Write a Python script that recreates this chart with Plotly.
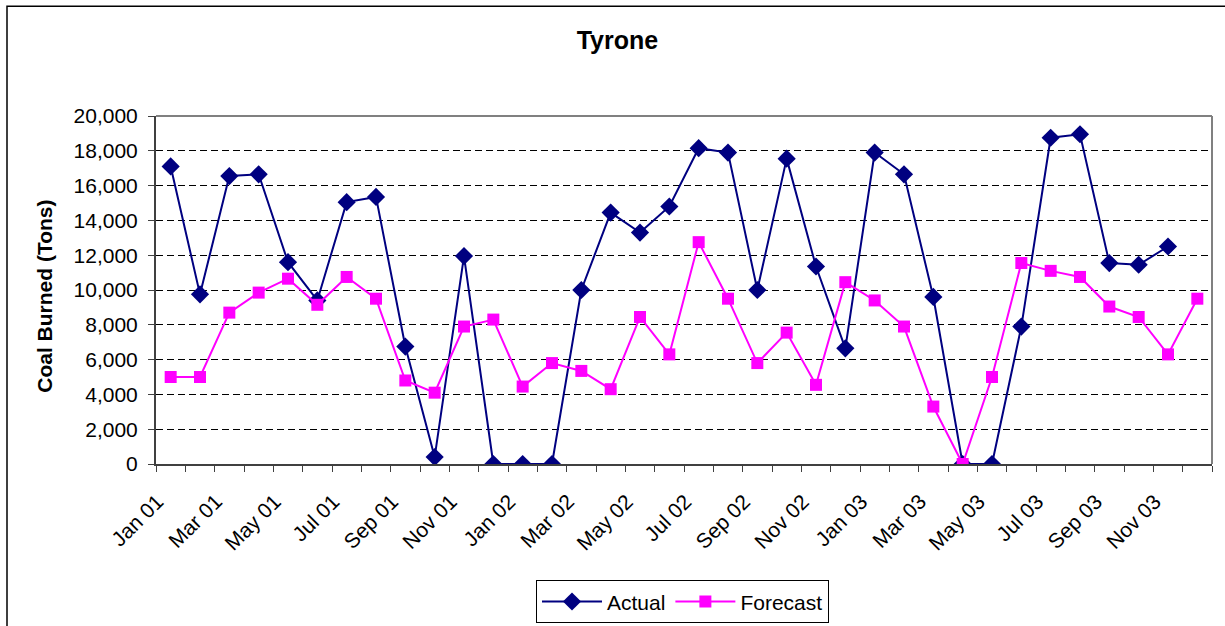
import plotly.graph_objects as go

# Monthly coal burn at Tyrone, Jan 2001 - Dec 2003
months = [
    "Jan 01", "Feb 01", "Mar 01", "Apr 01", "May 01", "Jun 01",
    "Jul 01", "Aug 01", "Sep 01", "Oct 01", "Nov 01", "Dec 01",
    "Jan 02", "Feb 02", "Mar 02", "Apr 02", "May 02", "Jun 02",
    "Jul 02", "Aug 02", "Sep 02", "Oct 02", "Nov 02", "Dec 02",
    "Jan 03", "Feb 03", "Mar 03", "Apr 03", "May 03", "Jun 03",
    "Jul 03", "Aug 03", "Sep 03", "Oct 03", "Nov 03", "Dec 03",
]

actual = [
    17100, 9750, 16550, 16650, 11600, 9400, 15050, 15350, 6750, 400, 11950, 0,
    0, 0, 10000, 14450, 13300, 14800, 18150, 17900, 10000, 17550, 11350, 6650,
    17900, 16650, 9600, 0, 0, 7900, 18750, 18950, 11550, 11450, 12500, None,
]

forecast = [
    5000, 5000, 8700, 9850, 10650, 9150, 10750, 9500, 4800, 4100, 7900, 8300,
    4450, 5800, 5350, 4300, 8450, 6300, 12750, 9500, 5800, 7550, 4550, 10450,
    9400, 7900, 3300, 0, 5000, 11550, 11100, 10750, 9050, 8450, 6300, 9500,
]

y_ticks = [0, 2000, 4000, 6000, 8000, 10000, 12000, 14000, 16000, 18000, 20000]

FONT = "Arial, Liberation Sans, sans-serif"
idx = list(range(len(months)))
label_idx = idx[::2]

# pixel geometry of the plot area
W, H = 1225, 626
L, R, T, B = 156, 1212, 116, 464.5
pw, ph = R - L, B - T


def px_x(px):
    return (px - L) / pw


def px_y(py):
    return (B - py) / ph


fig = go.Figure()

fig.add_trace(go.Scatter(
    x=idx, y=actual, name="Actual", mode="lines+markers",
    line=dict(color="#000080", width=2),
    marker=dict(symbol="diamond", size=14, color="#000080"),
    connectgaps=False,
))
fig.add_trace(go.Scatter(
    x=idx, y=forecast, name="Forecast", mode="lines+markers",
    line=dict(color="#FF00FF", width=2),
    marker=dict(symbol="square", size=12, color="#FF00FF"),
))

fig.update_layout(
    width=W, height=H,
    margin=dict(l=L, r=W - R, t=T, b=H - B, pad=0, autoexpand=False),
    paper_bgcolor="white", plot_bgcolor="white",
    font=dict(family=FONT, size=21, color="black"),
    title=dict(text="<b>Tyrone</b>", x=0.504, xanchor="center",
               y=1 - 40 / H, yanchor="middle", yref="container",
               font=dict(family=FONT, size=25, color="black")),
    showlegend=True,
    legend=dict(orientation="h", x=px_x(682.5), xanchor="center",
                y=px_y(581), yanchor="top",
                bordercolor="black", borderwidth=1, bgcolor="white",
                font=dict(family=FONT, size=21, color="black"),
                itemwidth=60, tracegroupgap=0),
)

fig.update_xaxes(
    automargin=False,
    range=[-0.5, len(months) - 0.5],
    tickmode="array", tickvals=[i - 0.45 for i in label_idx],
    ticktext=[months[i] for i in label_idx],
    tickangle=-45, ticks="", ticklabelstandoff=15,
    showgrid=False, zeroline=False,
    showline=True, linecolor="#404040", linewidth=2,
    tickfont=dict(family=FONT, size=21, color="black"),
    minor=dict(tickmode="array", tickvals=[i - 0.5 for i in range(len(months) + 1)],
               ticks="outside", ticklen=6, tickwidth=1, tickcolor="#404040",
               showgrid=False),
)

fig.update_yaxes(
    automargin=False,
    range=[0, 20000], tickmode="array", tickvals=y_ticks,
    tickformat=",", ticks="outside", ticklen=6, tickwidth=1, tickcolor="#404040",
    ticklabelstandoff=6,
    showgrid=True, gridcolor="black", gridwidth=1, griddash="7px,4px",
    zeroline=False, showline=True, linecolor="#404040", linewidth=2,
    tickfont=dict(family=FONT, size=21, color="black"),
)

# plot-area frame (top and right edges) and the outer chart frame
fig.add_shape(type="line", xref="paper", yref="paper", x0=0, x1=1, y0=1, y1=1,
              line=dict(color="#808080", width=2))
fig.add_shape(type="line", xref="paper", yref="paper", x0=1, x1=1, y0=0, y1=1,
              line=dict(color="#808080", width=2))
fig.add_shape(type="rect", xref="paper", yref="paper",
              x0=px_x(7), x1=px_x(1240), y0=px_y(640), y1=px_y(6),
              line=dict(color="black", width=1.5), fillcolor="rgba(0,0,0,0)",
              layer="below")

fig.add_annotation(
    text="<b>Coal Burned (Tons)</b>", textangle=-90, showarrow=False,
    xref="paper", yref="paper", x=px_x(45), y=px_y(297),
    xanchor="center", yanchor="middle",
    font=dict(family=FONT, size=21, color="black"),
)

fig.write_html("out.html")
